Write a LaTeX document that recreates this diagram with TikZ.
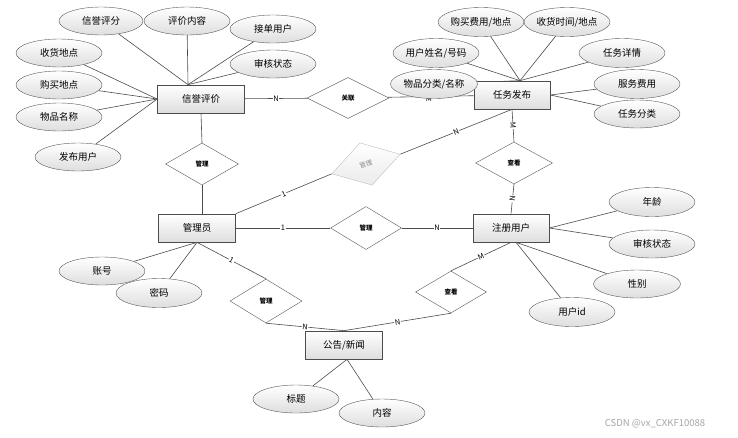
\documentclass[tikz,border=0pt]{standalone}
\usepackage{fontspec}
\setmainfont{Noto Sans CJK SC}
\usetikzlibrary{shapes.geometric,calc,backgrounds}
\tikzset{
  ent/.style={draw=black!70, top color=white, bottom color=black!13, minimum width=77pt, minimum height=28pt, inner sep=0pt, line width=0.7pt, font=\fontsize{9.5}{10}\selectfont},
  attr/.style={ellipse, draw=black!65, top color=white, bottom color=black!13, minimum width=86pt, minimum height=28pt, inner sep=0pt, font=\fontsize{9.5}{10}\selectfont},
  rel/.style={diamond, draw=black!65, fill=white, minimum width=74pt, minimum height=42pt, inner sep=0pt, font=\fontsize{6.5}{7}\selectfont\bfseries},
  ln/.style={draw=black!70, line width=0.6pt},
  card/.style={fill=white, inner sep=0.6pt, font=\fontsize{7.5}{7.5}\selectfont},
}
\begin{document}
\begin{tikzpicture}[x=1pt,y=-1pt]
\useasboundingbox (0,0) rectangle (738,437);
% entities
\node[ent, minimum width=87pt] (xy) at (201,99) {信誉评价};
\node[ent, minimum width=76pt] (rw) at (512,95) {任务发布};
\node[ent] (gly) at (197,228) {管理员};
\node[ent, minimum width=76pt] (zc) at (511,228) {注册用户};
\node[ent] (gg) at (344,345) {公告/新闻};
% relations
\node[rel, minimum width=82pt, minimum height=41pt] (gl1) at (348,98) {关联};
\node[rel, minimum width=73pt] (r2) at (202,164) {管理};
\node[rel, minimum width=71pt, minimum height=43pt] (r3) at (366,228) {管理};
\node[rel, minimum width=77pt] (r4) at (514,163) {查看};
\node[rel, minimum width=71pt] (r5) at (451,292) {查看};
\node[rel, minimum width=72pt, minimum height=44pt] (r6) at (266,301) {管理};
\node[rel, draw=black!25, top color=white, bottom color=black!8, text=black!45, font=\fontsize{6.5}{7}\selectfont, rotate=16, minimum width=71pt, minimum height=44pt] (r7) at (366,164) {管理};
% attributes of 信誉评价
\node[attr, minimum width=84pt] (a1) at (101,21) {信誉评分};
\node[attr] (a2) at (187,21) {评价内容};
\node[attr] (a3) at (273,29) {接单用户};
\node[attr] (a4) at (273,64) {审核状态};
\node[attr] (a5) at (59,53) {收货地点};
\node[attr] (a6) at (59,85) {购买地点};
\node[attr] (a7) at (59,117) {物品名称};
\node[attr] (a8) at (78,157) {发布用户};
% attributes of 任务发布
\node[attr, minimum width=85pt, minimum height=29pt] (b1) at (481,22) {购买费用/地点};
\node[attr, minimum height=29pt] (b2) at (567,22) {收货时间/地点};
\node[attr, minimum height=29pt] (b3) at (436,53) {用户姓名/号码};
\node[attr, minimum width=87pt, minimum height=29pt] (b4) at (434,84) {物品分类/名称};
\node[attr, minimum height=29pt] (b5) at (622,53) {任务详情};
\node[attr, minimum height=29pt] (b6) at (637,84) {服务费用};
\node[attr] (b7) at (637,114) {任务分类};
% attributes of 注册用户
\node[attr, minimum height=29pt] (c1) at (652,202) {年龄};
\node[attr] (c2) at (652,244) {审核状态};
\node[attr, minimum width=87pt] (c3) at (637,284) {性别};
\node[attr, minimum height=29pt] (c4) at (572,312) {用户id};
% attributes of 管理员
\node[attr] (d1) at (102,271) {账号};
\node[attr, minimum height=29pt] (d2) at (159,293) {密码};
% attributes of 公告/新闻
\node[attr] (e1) at (296,399) {标题};
\node[attr] (e2) at (382,413) {内容};
% watermark
\node[font=\fontsize{9.5}{10}\selectfont, text=black!35] (wm) at (655,424) {CSDN @vx\_CXKF10088};
% convergence points
\coordinate (xyT) at ([xshift=-13pt]xy.north);
\coordinate (xyW) at (xy.west);
\coordinate (rwT) at ([xshift=8pt]rw.north);
\coordinate (rwE) at (rw.east);
\coordinate (zcE) at (zc.east);
\coordinate (zcS) at ([xshift=5pt]zc.south);
\coordinate (glyS) at (gly.south);
\coordinate (ggS) at ([xshift=3pt]gg.south);
\begin{pgfonlayer}{background}
\fill[white] (0,0) rectangle (738,437);
% relationship connectors
\draw[ln] (xy) -- node[card]{N} (gl1);
\draw[ln] (gl1) -- node[card, pos=0.48, yshift=-2.5pt]{M} (rw);
\draw[ln] (xy.south) -- (r2.north);
\draw[ln] (r2.south) -- (r2.south |- gly.north);
\draw[ln] (gly.north east) -- node[card,sloped]{1} (r7.west);
\draw[ln] (r7.east) -- node[card,sloped]{N} (rw.south);
\draw[ln] (rw.south) -- node[card,sloped]{M} (r4.north);
\draw[ln] (r4.south) -- node[card,sloped]{N} (zc.north);
\draw[ln] (gly) -- node[card]{1} (r3);
\draw[ln] (r3) -- node[card]{N} (zc);
\draw[ln] (glyS) -- node[card,sloped]{1} (r6.north);
\draw[ln] (r6.south) -- node[card,sloped]{N} (gg.north);
\draw[ln] (zc.south) -- node[card,sloped]{M} (r5.north);
\draw[ln] (r5.south) -- node[card,sloped]{N} (gg.north);
% attribute connectors
\foreach \a in {a1,a2,a3,a4} \draw[ln] (\a) -- (xyT);
\foreach \a in {a5,a6,a7,a8} \draw[ln] (\a) -- (xyW);
\foreach \a in {b1,b2,b3,b4,b5} \draw[ln] (\a) -- (rwT);
\foreach \a in {b6,b7} \draw[ln] (\a) -- (rwE);
\foreach \a in {c1,c2} \draw[ln] (\a) -- (zcE);
\foreach \a in {c3,c4} \draw[ln] (\a) -- (zcS);
\foreach \a in {d1,d2} \draw[ln] (\a) -- (glyS);
\foreach \a in {e1,e2} \draw[ln] (\a) -- (ggS);
\end{pgfonlayer}
\end{tikzpicture}
\end{document}
